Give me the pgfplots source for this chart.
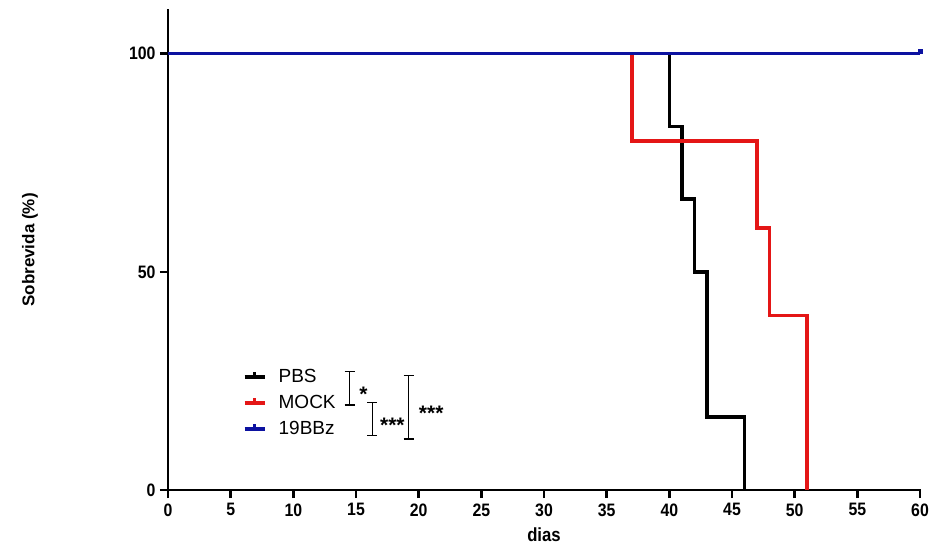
\documentclass[border=0pt]{standalone}
\usepackage{fontspec}
\setmainfont{Liberation Sans}
\newfontfamily\narrowfont{Liberation Sans}[FakeStretch=0.88]
\usepackage{pgfplots}
\usetikzlibrary{calc}
\pgfplotsset{compat=1.18}
\definecolor{kmred}{RGB}{228,22,22}
\definecolor{kmblue}{RGB}{12,18,160}
\begin{document}
\begin{tikzpicture}
\begin{axis}[
  scale only axis,
  width=752pt, height=480pt,
  xmin=0, xmax=60, ymin=0, ymax=110,
  axis x line*=bottom, axis y line*=left,
  axis line style={line width=2.6pt, line cap=rect},
  xtick distance=5,
  ytick={0,50,100},
  tick align=outside,
  major tick length=8pt,
  tick style={line width=2.6pt, black},
  /pgf/number format/assume math mode=true,
  ticklabel style={font=\narrowfont\bfseries\fontsize{18}{18}\selectfont},
  xticklabel style={yshift=-2pt},
  yticklabel style={xshift=-1pt},
  xlabel={dias},
  ylabel={Sobrevida (\%)},
  xlabel style={font=\narrowfont\bfseries\fontsize{19}{19}\selectfont, at={(axis description cs:0.5,-0.094)}, anchor=center},
  ylabel style={font=\bfseries\fontsize{17}{20}\selectfont, at={(axis description cs:-0.1835,0.5)}, anchor=center},
  clip=false,
  legend style={at={(axis cs:5.7,28.3)}, anchor=north west, draw=none, fill=none,
     font=\fontsize{19}{22}\selectfont, row sep=9pt,
     nodes={inner sep=1pt},
     /tikz/every odd column/.append style={column sep=11pt}},
  legend cell align=left,
  legend image code/.code={
    \draw[#1, line width=4pt] (0pt,0pt) -- (20pt,0pt);
    \draw[#1, line width=2.5pt] (10pt,0pt) -- (10pt,5pt);
  },
]
\addplot[const plot, black, line width=3.6pt, line join=miter] coordinates {
  (0,100) (40,83.33) (41,66.67) (42,50) (43,16.67) (46,0)
};
\addlegendentry{PBS}
\addplot[const plot, kmred, line width=3.6pt, line join=miter] coordinates {
  (0,100) (37,80) (47,60) (48,40) (51,0)
};
\addlegendentry{MOCK}
\addplot[const plot, kmblue, line width=3.6pt] coordinates {
  (0,100) (60,100)
};
\addlegendentry{19BBz}
\addplot[kmblue, only marks, mark=square*, mark size=1.8pt, forget plot] coordinates {(60,100.6)};
% significance brackets
\draw[line width=1.2pt] (axis cs:14.1,27.1) -- (axis cs:14.9,27.1) (axis cs:14.5,27.1) -- (axis cs:14.5,19.5) (axis cs:14.1,19.5) -- (axis cs:14.9,19.5);
\node[font=\bfseries\fontsize{21}{21}\selectfont] at (axis cs:15.6,22.0) {*};
\draw[line width=1.2pt] (axis cs:15.9,20) -- (axis cs:16.7,20) (axis cs:16.3,20) -- (axis cs:16.3,12.4) (axis cs:15.9,12.4) -- (axis cs:16.7,12.4);
\node[font=\bfseries\fontsize{21}{21}\selectfont] at (axis cs:17.9,14.9) {***};
\draw[line width=1.2pt] (axis cs:18.8,26.2) -- (axis cs:19.6,26.2) (axis cs:19.2,26.2) -- (axis cs:19.2,11.7) (axis cs:18.8,11.7) -- (axis cs:19.6,11.7);
\node[font=\bfseries\fontsize{21}{21}\selectfont] at (axis cs:21.0,17.6) {***};
\coordinate (sw) at (rel axis cs:0,0);
\coordinate (ne) at (rel axis cs:1,1);
\end{axis}
\pgfresetboundingbox
\useasboundingbox ($(sw)+(-168pt,-55pt)$) rectangle ($(ne)+(12pt,10pt)$);
\end{tikzpicture}
\end{document}
